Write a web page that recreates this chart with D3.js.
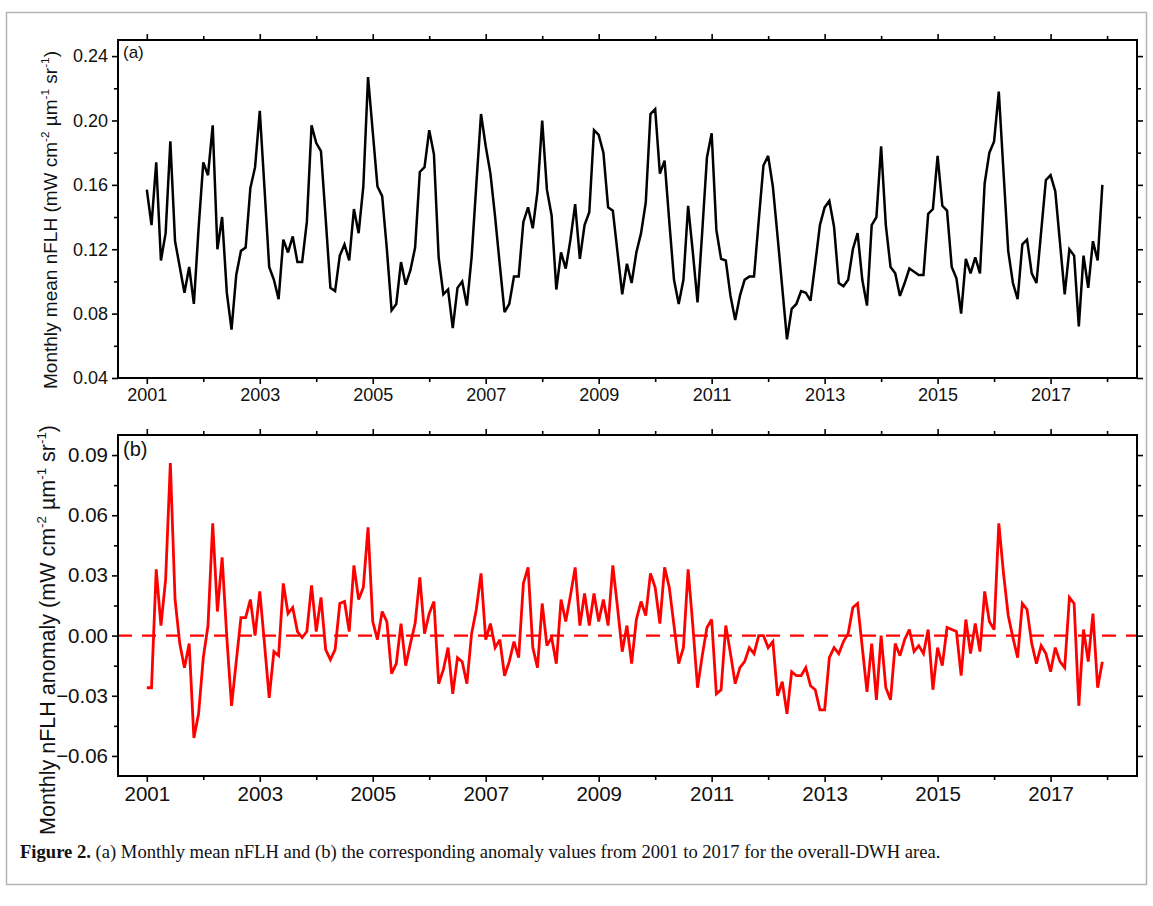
<!DOCTYPE html>
<html><head><meta charset="utf-8">
<script src="https://cdn.jsdelivr.net/npm/d3@7/dist/d3.min.js"></script>
<style>body{margin:0;background:#fff}svg{display:block}</style>
</head><body>
<svg id="chart" width="1153" height="906"></svg>
<script>
// ---------------- data ----------------
const startYear = 2001;           // first month: January 2001, monthly to December 2017
const nflh = [
 0.157,0.135,0.174,0.113,0.130,0.187,0.125,0.109,0.093,0.109,0.086,0.133,
 0.174,0.166,0.197,0.120,0.140,0.093,0.070,0.104,0.119,0.121,0.158,0.171,
 0.206,0.158,0.109,0.101,0.089,0.126,0.118,0.128,0.112,0.112,0.137,0.197,
 0.186,0.181,0.139,0.096,0.094,0.116,0.123,0.113,0.145,0.130,0.159,0.227,
 0.193,0.159,0.153,0.120,0.082,0.086,0.112,0.098,0.107,0.121,0.168,0.171,
 0.194,0.179,0.115,0.092,0.095,0.071,0.096,0.100,0.085,0.115,0.160,0.204,
 0.184,0.167,0.140,0.110,0.081,0.086,0.103,0.103,0.137,0.146,0.133,0.156,
 0.200,0.157,0.141,0.095,0.118,0.108,0.126,0.148,0.114,0.135,0.143,0.194,
 0.191,0.180,0.146,0.144,0.118,0.092,0.111,0.099,0.118,0.130,0.149,0.204,
 0.207,0.167,0.175,0.137,0.101,0.086,0.101,0.147,0.118,0.087,0.131,0.177,
 0.192,0.132,0.114,0.113,0.091,0.076,0.091,0.101,0.103,0.103,0.138,0.172,
 0.178,0.159,0.128,0.096,0.064,0.083,0.086,0.094,0.093,0.088,0.111,0.135,
 0.146,0.150,0.134,0.099,0.097,0.101,0.120,0.130,0.101,0.085,0.135,0.140,
 0.184,0.135,0.109,0.105,0.091,0.099,0.108,0.106,0.104,0.104,0.142,0.145,
 0.178,0.147,0.144,0.109,0.102,0.080,0.114,0.105,0.115,0.105,0.161,0.180,
 0.187,0.218,0.168,0.119,0.099,0.089,0.123,0.126,0.105,0.099,0.131,0.163,
 0.166,0.156,0.124,0.092,0.120,0.116,0.072,0.116,0.096,0.125,0.113,0.160
];
const anomaly = [
 -0.026,-0.026,0.033,0.005,0.028,0.086,0.018,-0.004,-0.016,-0.004,-0.051,-0.039,
 -0.011,0.005,0.056,0.012,0.039,-0.001,-0.035,-0.013,0.009,0.009,0.018,0.000,
 0.022,-0.004,-0.031,-0.008,-0.010,0.026,0.011,0.014,0.002,-0.001,0.002,0.025,
 0.002,0.019,-0.007,-0.012,-0.007,0.016,0.017,0.002,0.035,0.018,0.024,0.054,
 0.007,-0.002,0.012,0.007,-0.019,-0.014,0.006,-0.015,-0.004,0.006,0.029,0.001,
 0.011,0.017,-0.024,-0.017,-0.006,-0.029,-0.011,-0.013,-0.024,0.001,0.013,0.031,
 -0.002,0.006,-0.006,-0.002,-0.020,-0.013,-0.003,-0.011,0.026,0.034,-0.006,-0.016,
 0.016,-0.005,-0.001,-0.014,0.018,0.007,0.020,0.034,0.005,0.021,0.005,0.021,
 0.007,0.018,0.005,0.035,0.014,-0.008,0.005,-0.014,0.008,0.017,0.010,0.031,
 0.024,0.006,0.034,0.024,0.005,-0.014,-0.006,0.033,0.005,-0.026,-0.010,0.004,
 0.008,-0.029,-0.027,0.005,-0.009,-0.024,-0.016,-0.013,-0.006,-0.009,0.000,0.000,
 -0.006,-0.003,-0.030,-0.023,-0.039,-0.018,-0.020,-0.020,-0.016,-0.025,-0.027,-0.037,
 -0.037,-0.011,-0.006,-0.009,-0.003,0.001,0.014,0.016,-0.006,-0.028,-0.004,-0.032,
 0.000,-0.026,-0.032,-0.004,-0.010,-0.002,0.003,-0.008,-0.005,-0.009,0.003,-0.027,
 -0.006,-0.015,0.004,0.003,0.002,-0.020,0.008,-0.009,0.006,-0.008,0.022,0.007,
 0.003,0.056,0.031,0.010,-0.001,-0.011,0.016,0.013,-0.004,-0.014,-0.005,-0.009,
 -0.018,-0.006,-0.013,-0.016,0.019,0.016,-0.035,0.003,-0.013,0.011,-0.026,-0.013
];
const majorYears = [2001,2003,2005,2007,2009,2011,2013,2015,2017];
const minorYears = [2002,2004,2006,2008,2010,2012,2014,2016,2018];
const nflhTicks  = [0.04,0.08,0.12,0.16,0.20,0.24];
const nflhMinor  = [0.06,0.10,0.14,0.18,0.22];
const anomTicks  = [-0.06,-0.03,0.00,0.03,0.06,0.09];
const anomMinor  = [-0.045,-0.015,0.015,0.045,0.075];
const captionBold = "Figure 2.";
const captionText = " (a) Monthly mean nFLH and (b) the corresponding anomaly values from 2001 to 2017 for the overall-DWH area.";

// ---------------- drawing ----------------
const svg = d3.select("#chart");
const W = 1153, H = 906;
svg.append("rect").attr("width", W).attr("height", H).attr("fill", "#fff");
// outer figure border
svg.append("rect").attr("x", 6.5).attr("y", 12.5).attr("width", 1140).attr("height", 872)
  .attr("fill", "none").attr("stroke", "#b4b4b4").attr("stroke-width", 1.5);

const L = 118, R = 1137;
const x = d3.scaleLinear().domain([2000.49, 2018.53]).range([L, R]);
const font = "'Liberation Sans', Arial, sans-serif";

function drawPanel(cfg) {
  const y = d3.scaleLinear().domain(cfg.domain).range([cfg.bottom, cfg.top]);
  const g = svg.append("g");
  const pts = cfg.values.map((v, i) => ({ t: startYear + i / 12, v }));

  const addAxis = (axisFn, scale, ticks, size, fmt, transform, fs) => {
    const a = g.append("g").attr("transform", transform)
      .call(axisFn(scale).tickValues(ticks).tickSize(size).tickSizeOuter(0)
        .tickPadding(cfg.pad).tickFormat(fmt));
    a.select(".domain").remove();
    a.selectAll("line").attr("stroke", "#000").attr("stroke-width", 1.6);
    a.selectAll("text").attr("font-family", font).attr("font-size", fs).attr("fill", "#111");
    return a;
  };
  const fy = d3.format(".2f");
  addAxis(d3.axisBottom, x, majorYears, 6, d3.format("d"), `translate(0,${cfg.bottom})`, cfg.xfs);
  addAxis(d3.axisBottom, x, minorYears, 4, "", `translate(0,${cfg.bottom})`, cfg.xfs);
  addAxis(d3.axisTop, x, majorYears, 6, "", `translate(0,${cfg.top})`, cfg.xfs);
  addAxis(d3.axisTop, x, minorYears, 4, "", `translate(0,${cfg.top})`, cfg.xfs);
  addAxis(d3.axisLeft, y, cfg.ticks, 6, d => fy(d), `translate(${L},0)`, cfg.yfs);
  addAxis(d3.axisLeft, y, cfg.minor, 4, "", `translate(${L},0)`, cfg.yfs);
  addAxis(d3.axisRight, y, cfg.ticks, 6, "", `translate(${R},0)`, cfg.yfs);
  addAxis(d3.axisRight, y, cfg.minor, 4, "", `translate(${R},0)`, cfg.yfs);

  if (cfg.zero) {
    g.append("line").attr("x1", L).attr("x2", R).attr("y1", y(0)).attr("y2", y(0))
      .attr("stroke", cfg.color).attr("stroke-width", 2.2).attr("stroke-dasharray", "14,10");
  }
  g.append("path").datum(pts)
    .attr("d", d3.line().x(d => x(d.t)).y(d => y(d.v)))
    .attr("fill", "none").attr("stroke", cfg.color).attr("stroke-width", cfg.lw)
    .attr("stroke-linejoin", "miter").attr("stroke-miterlimit", 3);

  g.append("rect").attr("x", L).attr("y", cfg.top).attr("width", R - L).attr("height", cfg.bottom - cfg.top)
    .attr("fill", "none").attr("stroke", "#000").attr("stroke-width", 2);

  g.append("text").attr("x", L + 5).attr("y", cfg.top + cfg.lfs + 1).text(cfg.label)
    .attr("font-family", font).attr("font-size", cfg.lfs).attr("fill", "#111");

  const t = g.append("text").attr("transform", `translate(${cfg.titleX},${cfg.titleY}) rotate(-90)`)
    .attr("text-anchor", "middle").attr("font-family", font).attr("font-size", cfg.tfs).attr("fill", "#111");
  const sup = (s) => t.append("tspan").attr("dy", -cfg.tfs * 0.42).attr("font-size", cfg.tfs * 0.62).text(s);
  const base = (s) => t.append("tspan").attr("dy", cfg.tfs * 0.42).text(s);
  t.append("tspan").text(cfg.title + " (mW cm");
  sup("-2"); base(" µm"); sup("-1"); base(" sr"); sup("-1"); base(")");
}

drawPanel({
  values: nflh, domain: [0.04, 0.25], top: 40, bottom: 378, color: "#000", lw: 2.5,
  ticks: nflhTicks, minor: nflhMinor, zero: false, label: "(a)", lfs: 17,
  xfs: 18, yfs: 18, pad: 4, tfs: 19, title: "Monthly mean nFLH", titleX: 57, titleY: 220
});
drawPanel({
  values: anomaly, domain: [-0.07, 0.10], top: 435, bottom: 776, color: "#ff0000", lw: 2.8,
  ticks: anomTicks, minor: anomMinor, zero: true, label: "(b)", lfs: 20,
  xfs: 20.5, yfs: 20.5, pad: 4, tfs: 21.5, title: "Monthly nFLH anomaly", titleX: 55, titleY: 630
});

// caption
const cap = svg.append("text").attr("x", 20).attr("y", 858)
  .attr("font-family", "'Liberation Serif', 'Times New Roman', serif").attr("font-size", 18.6).attr("fill", "#111");
cap.append("tspan").attr("font-weight", "bold").text(captionBold);
cap.append("tspan").text(captionText);
</script>
</body></html>
